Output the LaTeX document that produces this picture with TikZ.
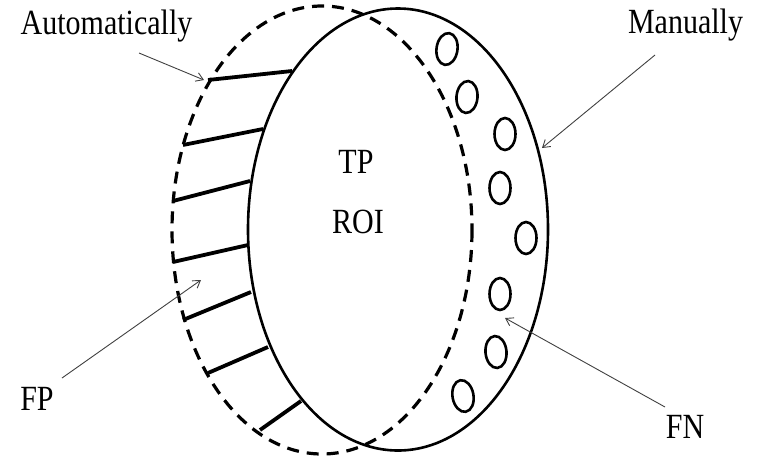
\documentclass[tikz,border=0pt]{standalone}
\usepackage{fontspec}
\setmainfont{Liberation Serif}
\usetikzlibrary{arrows.meta}
\tikzset{
  outline/.style={line width=2.6pt, black},
  dashline/.style={line width=3.2pt, black, dash pattern=on 12pt off 8pt},
  hatch/.style={line width=3.8pt, black},
  blob/.style={line width=2.6pt, black},
  lbl/.style={font=\fontsize{30}{30}\selectfont, yscale=1.18, inner sep=0pt, anchor=base},
  pointer/.style={line width=0.9pt, black!75, -{Straight Barb[length=7pt,width=9pt]}}
}
\begin{document}
\begin{tikzpicture}[x=1pt,y=-1pt]
\useasboundingbox (0,0) rectangle (763,459);
% main ellipses
\draw[outline] (398,229.5) ellipse [x radius=150, y radius=221];
\draw[dashline] (322,230) ellipse [x radius=150, y radius=224];
% hatch lines
\draw[hatch] (208,80) -- (292,71);
\draw[hatch] (183,145) -- (263,129);
\draw[hatch] (173,201) -- (250,181);
\draw[hatch] (173,262) -- (248,245);
\draw[hatch] (183,320) -- (251,292);
\draw[hatch] (208,373) -- (268,347);
\draw[hatch] (260,430) -- (301,401);
% small circles
\foreach \cx/\cy/\r in {447/49/-8, 467/97/-5, 505/134/0, 500/188/0, 526/238/0, 500/294/0, 496/352/5, 463/396/10}
  \draw[blob, rotate around={\r:(\cx,\cy)}] (\cx,\cy) ellipse [x radius=10.5, y radius=16];
% labels
\node[lbl] (auto) at (106.5,34) {Automatically};
\node[lbl] (man) at (685.5,33) {Manually};
\node[lbl] (tp) at (356,173) {TP};
\node[lbl] (roi) at (358,233) {ROI};
\node[lbl] (fp) at (37,410) {FP};
\node[lbl] (fn) at (685,438) {FN};
% arrow endpoints
\coordinate (a1) at (139,53);  \coordinate (a2) at (204,80);
\coordinate (m1) at (655,55);  \coordinate (m2) at (542,148);
\coordinate (p1) at (62,378);  \coordinate (p2) at (201,280);
\coordinate (n1) at (665,407); \coordinate (n2) at (505,318);
\draw[pointer] (a1) -- (a2);
\draw[pointer] (m1) -- (m2);
\draw[pointer] (p1) -- (p2);
\draw[pointer] (n1) -- (n2);
\end{tikzpicture}
\end{document}
